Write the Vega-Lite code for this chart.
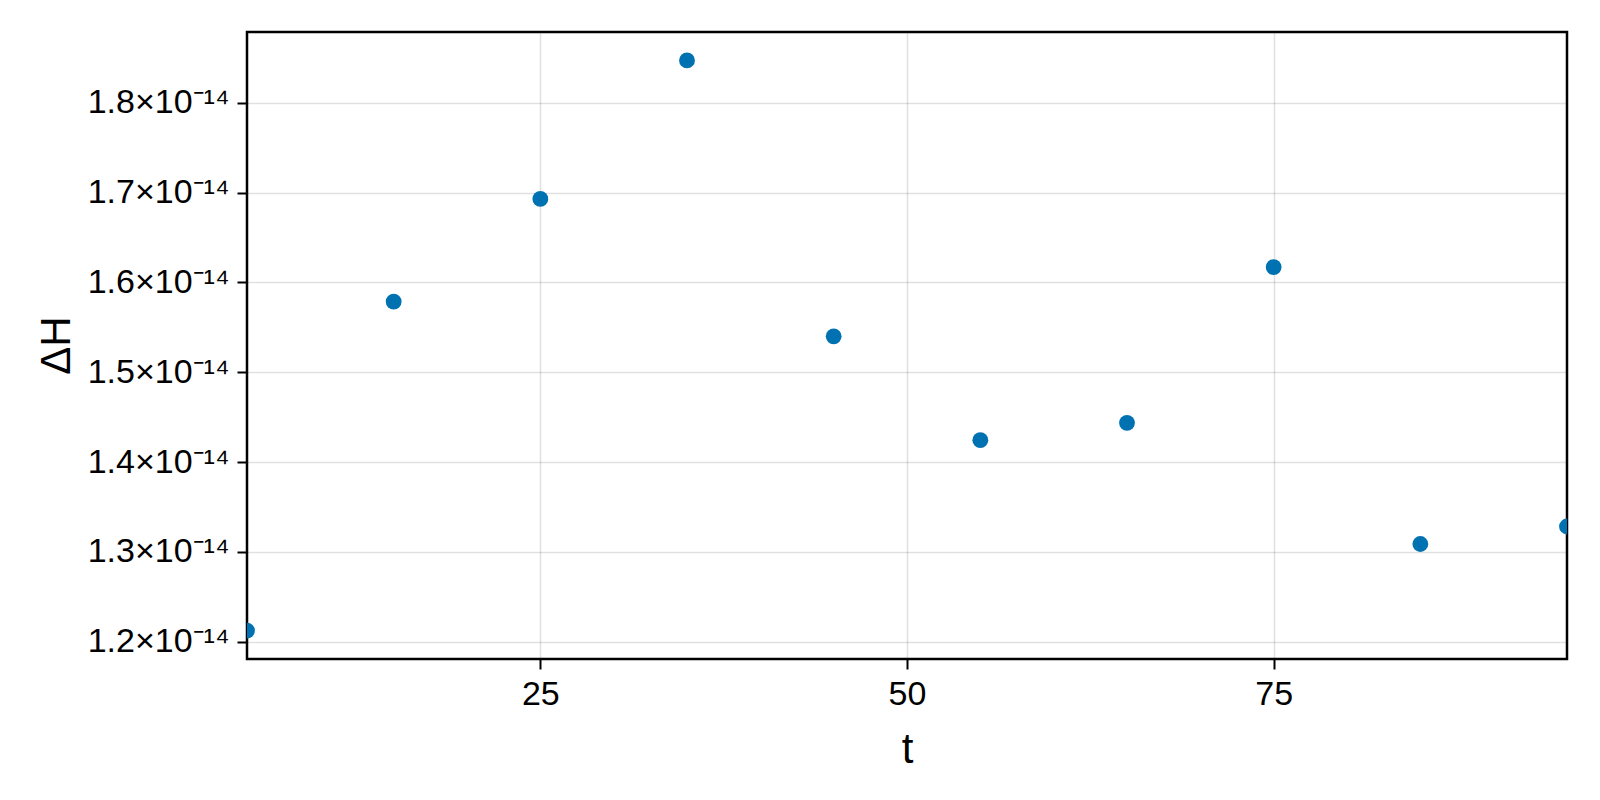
{
  "$schema": "https://vega.github.io/schema/vega-lite/v6.json",
  "width": 1320,
  "height": 627,
  "autosize": {"type": "none"},
  "padding": {"left": 247, "top": 32, "right": 32, "bottom": 141},
  "background": "white",
  "data": {
    "values": [
      {"t": 5, "dH": 1.2123e-14},
      {"t": 15, "dH": 1.5786e-14},
      {"t": 25, "dH": 1.6930e-14},
      {"t": 35, "dH": 1.8472e-14},
      {"t": 45, "dH": 1.5400e-14},
      {"t": 55, "dH": 1.4243e-14},
      {"t": 65, "dH": 1.4436e-14},
      {"t": 75, "dH": 1.6171e-14},
      {"t": 85, "dH": 1.3087e-14},
      {"t": 95, "dH": 1.3282e-14}
    ]
  },
  "mark": {"type": "circle", "size": 250, "opacity": 1, "color": "#0072b2", "clip": true},
  "encoding": {
    "x": {
      "field": "t",
      "type": "quantitative",
      "scale": {"domain": [5, 95], "nice": false, "zero": false},
      "axis": {
        "title": "t",
        "values": [25, 50, 75],
        "titleX": 660,
        "titleY": 90,
        "titleBaseline": "middle",
        "titleAlign": "center"
      }
    },
    "y": {
      "field": "dH",
      "type": "quantitative",
      "scale": {"domain": [1.1806e-14, 1.8789e-14], "nice": false, "zero": false},
      "axis": {
        "title": "ΔH",
        "values": [1.2e-14, 1.3e-14, 1.4e-14, 1.5e-14, 1.6e-14, 1.7e-14, 1.8e-14],
        "labelExpr": "format(datum.value * 1e14, '.1f') + '×10⁻¹⁴'",
        "titleX": -191,
        "titleY": 313,
        "titleBaseline": "middle",
        "titleAlign": "center",
        "titleAngle": -90
      }
    }
  },
  "config": {
    "font": "Liberation Sans",
    "view": {"stroke": "black", "strokeWidth": 2.5},
    "axis": {
      "domain": false,
      "grid": true,
      "gridColor": "black",
      "gridOpacity": 0.12,
      "gridWidth": 1.5,
      "ticks": true,
      "tickColor": "black",
      "tickWidth": 2,
      "tickSize": 10,
      "labelFont": "Liberation Sans",
      "labelFontSize": 34,
      "labelColor": "black",
      "labelPadding": 8,
      "titleFont": "Liberation Sans",
      "titleFontSize": 42,
      "titleFontWeight": "normal",
      "titleColor": "black"
    }
  }
}
